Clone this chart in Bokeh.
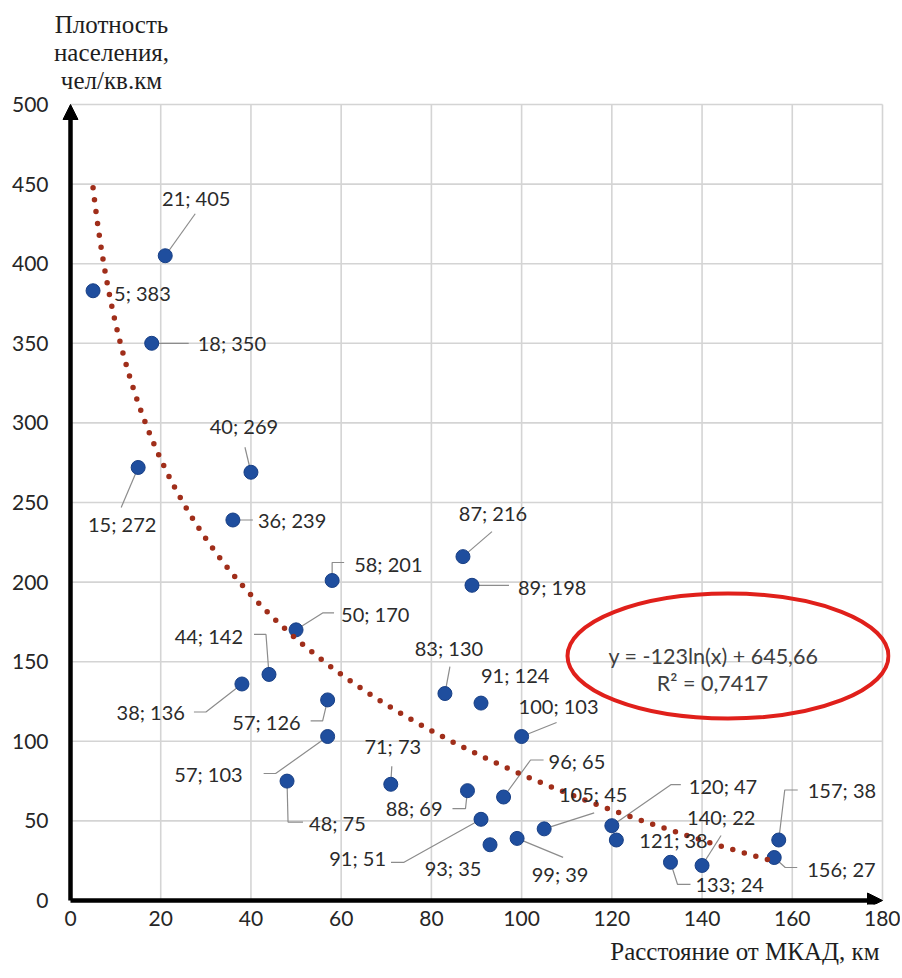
import numpy as np
from bokeh.plotting import figure
from bokeh.models import Range1d, FixedTicker, Arrow, NormalHead, Label, ColumnDataSource, Title
from bokeh.core.properties import value
from bokeh.embed import file_html
from bokeh.resources import INLINE

# ---- data ----
dist_km = [5, 21, 18, 15, 40, 36, 58, 50, 44, 38, 57, 57, 48, 71, 87, 89, 83, 91,
           100, 96, 88, 91, 93, 99, 105, 120, 121, 140, 133, 157, 156]
density = [383, 405, 350, 272, 269, 239, 201, 170, 142, 136, 126, 103, 75, 73, 216, 198, 130, 124,
           103, 65, 69, 51, 35, 39, 45, 47, 38, 22, 24, 38, 27]
x_ticks = [0, 20, 40, 60, 80, 100, 120, 140, 160, 180]
y_ticks = [0, 50, 100, 150, 200, 250, 300, 350, 400, 450, 500]
trend_a = -123.0
trend_b = 645.66
trend_text = ["y = -123ln(x) + 645,66", "R² = 0,7417"]
y_title = ["Плотность", "населения,", "чел/кв.км"]
x_title = "Расстояние от МКАД, км"

# ---- label layout (pixel offsets from each point) ----
lab_off = [(21, 2, "left"), (31, -58, "center"), (46, 0, "left"), (-16, 57, "center"),
           (-7, -46, "center"), (25, 0, "left"), (22, -17, "left"), (45, -16, "left"),
           (-26, -38, "right"), (-57, 28, "right"), (-27, 22, "right"), (-85, 37, "right"),
           (22, 42, "left"), (2, -38, "center"), (30, -44, "center"), (46, 2, "left"),
           (4, -46, "center"), (0, -28, "left"), (-3, -31, "left"), (45, -36, "left"),
           (-25, 17, "right"), (-95, 39, "right"), (-37, 23, "center"), (43, 36, "center"),
           (49, -35, "center"), (77, -40, "left"), (23, 0, "left"), (-15, -48, "left"),
           (25, 22, "left"), (29, -50, "left"), (33, 11, "left")]
leaders = [None, [(0, 0), (30, -42)], [(0, 0), (37, 0)], [(0, 0), (-17, 40)],
           [(0, 0), (-6, -25)], [(0, 0), (20, 0)], [(0, 0), (0, -18), (12, -18)],
           [(0, 0), (27, -17), (38, -17)], [(0, 0), (-3, -40), (-15, -40)],
           [(0, 0), (-36, 28), (-48, 28)], [(0, 0), (-5, 21), (-17, 21)],
           [(0, 0), (-52, 37), (-64, 37)], [(0, 0), (1, 41), (16, 41)],
           [(0, 0), (1, -18)], [(0, 0), (29, -25)], [(0, 0), (37, 0)],
           [(0, 0), (5, -27)], None, [(0, 0), (35, -14)], [(0, 0), (27, -37), (40, -37)],
           [(0, 0), (-2, 18), (-15, 18)], [(0, 0), (-77, 43), (-90, 43)], None,
           [(0, 0), (46, 19)], [(0, 0), (50, -16)], [(0, 0), (59, -41), (69, -41)], None,
           [(0, 0), (19, -30)], [(0, 0), (7, 22), (20, 22)], [(0, 0), (6, -50), (19, -50)],
           [(0, 0), (11, 10), (23, 10)]]

# ---- geometry (pixels) ----
W, H = 900, 976
BL, BR, BT, BB = 50, 10, 0, 72
PX0, PX1 = 70, 882      # pixel of x=0 / x=180
PY0, PY1 = 900, 104     # pixel of y=0 / y=500
sx = (PX1 - PX0) / 180.0
sy = (PY0 - PY1) / 500.0
X0 = -(PX0 - BL) / sx
X1 = X0 + (W - BL - BR) / sx
Y1 = 500 + (PY1 - BT) / sy
Y0 = Y1 - (H - BT - BB) / sy


def dx_(px):
    return (px - PX0) / sx


def dy_(py):
    return (PY0 - py) / sy


p = figure(width=W, height=H, x_range=Range1d(X0, X1), y_range=Range1d(Y0, Y1),
           output_backend="svg", toolbar_location=None,
           min_border_left=BL, min_border_right=BR, min_border_top=BT, min_border_bottom=BB)
p.outline_line_color = None
p.background_fill_color = "white"
p.border_fill_color = "white"
p.xgrid.visible = False
p.ygrid.visible = False

for ax, tk in ((p.xaxis, x_ticks), (p.yaxis, y_ticks)):
    ax.ticker = FixedTicker(ticks=tk)
    ax.axis_line_color = None
    ax.major_tick_line_color = None
    ax.minor_tick_line_color = None
    ax.major_tick_out = 0
    ax.major_tick_in = 0
    ax.major_label_text_font = "Lato"
    ax.major_label_text_font_size = "21px"
    ax.major_label_text_color = "#262626"
p.yaxis.major_label_standoff = BL - 48
p.xaxis.major_label_standoff = 6

# grid (within the data area only)
gx0 = [t for t in x_ticks] + [x_ticks[0]] * len(y_ticks)
gx1 = [t for t in x_ticks] + [x_ticks[-1]] * len(y_ticks)
gy0 = [y_ticks[0]] * len(x_ticks) + [t for t in y_ticks]
gy1 = [y_ticks[-1]] * len(x_ticks) + [t for t in y_ticks]
p.segment(gx0, gy0, gx1, gy1, line_color="#d4d4d4", line_width=1.6)

# leaders
lx, ly = [], []
for xv, yv, ld in zip(dist_km, density, leaders):
    if ld is None:
        continue
    lx.append([xv + a / sx for a, b in ld])
    ly.append([yv - b / sy for a, b in ld])
p.multi_line(lx, ly, line_color="#8c8c8c", line_width=1.2)

# points
p.scatter(dist_km, density, size=14, fill_color="#1F4E9E", line_color="#183f85", line_width=1)

# trend line
tx = np.linspace(min(dist_km), max(dist_km), 400)
ty = trend_a * np.log(tx) + trend_b
p.line(tx, ty, line_color="#A02E1A", line_width=5.5, line_dash="0 12", line_cap="round")

# data labels
src = ColumnDataSource(dict(
    x=[xv + o[0] / sx for xv, o in zip(dist_km, lab_off)],
    y=[yv - o[1] / sy for yv, o in zip(density, lab_off)],
    t=[f"{xv}; {yv}" for xv, yv in zip(dist_km, density)],
    a=[o[2] for o in lab_off]))
p.text(x="x", y="y", text="t", text_align="a", text_baseline="middle", source=src,
       text_font=value("Lato"), text_font_size=value("20px"), text_color="#2b2b2b")

# ellipse + equation
p.ellipse(x=dx_(727.5), y=dy_(655.5), width=321 / sx, height=125 / sy, fill_color=None,
          line_color="#E0201B", line_width=4)
p.text(x=[dx_(713), dx_(712)], y=[dy_(655), dy_(682)], text=trend_text, text_align="center",
       text_baseline="middle", text_font=value("Lato"), text_font_size=value("21.5px"),
       text_color="#404040")

# axis arrows
p.add_layout(Arrow(end=NormalHead(size=15, fill_color="black", line_color="black"),
                   x_start=0, y_start=0, x_end=0, y_end=500, line_width=4.5, line_color="black"))
p.add_layout(Arrow(end=NormalHead(size=15, fill_color="black", line_color="black"),
                   x_start=0, y_start=0, x_end=180, y_end=0, line_width=4.5, line_color="black"))

# axis titles
for t, yy in zip(y_title, (24, 52, 80)):
    p.add_layout(Label(x=dx_(111), y=dy_(yy), text=t, text_align="center", text_baseline="middle",
                       text_font="Liberation Serif", text_font_size="25px", text_color="#1e1e1e"))
p.add_layout(Title(text=x_title, align="right", offset=W - BR - 879, standoff=14,
                   vertical_align="bottom", text_line_height=1.0,
                   text_font="Liberation Serif", text_font_size="25px", text_font_style="normal",
                   text_color="#1e1e1e"), "below")

open("out.html", "w").write(file_html(p, INLINE))
